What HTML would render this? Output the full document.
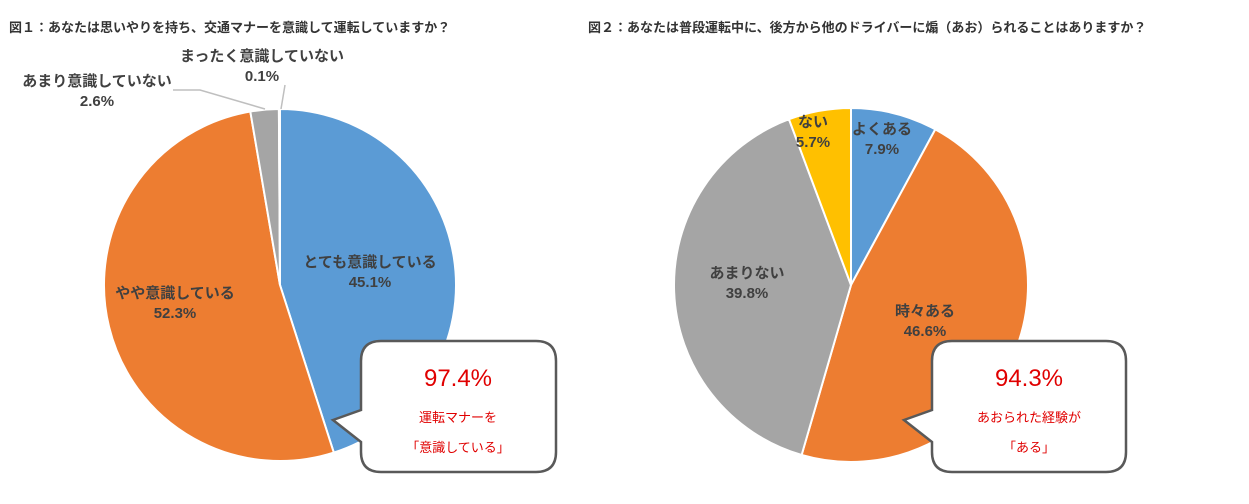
<!DOCTYPE html>
<html><head><meta charset="utf-8">
<style>
body{margin:0;background:#fff;width:1249px;height:504px;overflow:hidden;font-family:"Liberation Sans","Noto Sans CJK JP",sans-serif;}
svg{display:block}
.t{font-size:13px;font-weight:bold;fill:#333}
.l{font-size:15px;font-weight:bold;fill:#404040;text-anchor:middle}
</style></head><body>
<svg id="c" width="1249" height="504">
<text class="t" x="9" y="32">図１：あなたは思いやりを持ち、交通マナーを意識して運転していますか？</text>
<text class="t" x="588" y="32">図２：あなたは普段運転中に、後方から他のドライバーに煽（あお）られることはありますか？</text>
<g id="p1"></g>
<g id="p2"></g>
<g id="lab"></g>
<path d="M381,341 H536 Q556,341 556,361 V452 Q556,472 536,472 H381 Q361,472 361,452 V442 L333,420 L361,410 V361 Q361,341 381,341 Z" fill="#fff" stroke="#595959" stroke-width="2.5"/>
<text x="458" y="386" text-anchor="middle" font-size="24" fill="#e00000">97.4%</text>
<text x="458" y="422" text-anchor="middle" font-size="13" fill="#e00000">運転マナーを</text>
<text x="458" y="452" text-anchor="middle" font-size="13" fill="#e00000">「意識している」</text>
<path d="M952,341 H1106 Q1126,341 1126,361 V452 Q1126,472 1106,472 H952 Q932,472 932,452 V442 L904,420 L932,410 V361 Q932,341 952,341 Z" fill="#fff" stroke="#595959" stroke-width="2.5"/>
<text x="1029" y="386" text-anchor="middle" font-size="24" fill="#e00000">94.3%</text>
<text x="1029" y="422" text-anchor="middle" font-size="13" fill="#e00000">あおられた経験が</text>
<text x="1029" y="452" text-anchor="middle" font-size="13" fill="#e00000">「ある」</text>
</svg>
<script>
const cats1=["とても意識している","やや意識している","あまり意識していない","まったく意識していない"];
const vals1=[45.1,52.3,2.6,0.1];
const cats2=["よくある","時々ある","あまりない","ない"];
const vals2=[7.9,46.6,39.8,5.7];
const colors=["#5b9bd5","#ed7d31","#a5a5a5","#ffc000"];
const NS="http://www.w3.org/2000/svg";
function pie(gid,vals,cx,cy,r,names){
  const g=document.getElementById(gid);
  const tot=vals.reduce((a,b)=>a+b,0);
  let a=0;
  vals.forEach((v,i)=>{
    const a0=a/tot*2*Math.PI, a1=(a+v)/tot*2*Math.PI; a+=v;
    const x0=cx+r*Math.sin(a0),y0=cy-r*Math.cos(a0),x1=cx+r*Math.sin(a1),y1=cy-r*Math.cos(a1);
    const p=document.createElementNS(NS,"path");
    p.setAttribute("d",`M${cx},${cy} L${x0},${y0} A${r},${r} 0 ${a1-a0>Math.PI?1:0} 1 ${x1},${y1} Z`);
    p.setAttribute("fill",colors[i]);p.setAttribute("stroke","#fff");p.setAttribute("stroke-width","2");
    
    
    g.appendChild(p);
  });
}
pie("p1",vals1,280,285,176,["slice-very-conscious","slice-somewhat-conscious","slice-not-very-conscious","slice-not-conscious"]);
pie("p2",vals2,851,285,177,["slice-often","slice-sometimes","slice-rarely","slice-never"]);
const lab=document.getElementById("lab");
function txt(x,y,s,name){
  const t=document.createElementNS(NS,"text");
  t.setAttribute("x",x);t.setAttribute("y",y);t.setAttribute("class","l");t.textContent=s;
  
  
  lab.appendChild(t);
}
function line(d,name){
  const p=document.createElementNS(NS,"path");
  p.setAttribute("d",d);p.setAttribute("stroke","#bfbfbf");p.setAttribute("fill","none");p.setAttribute("stroke-width","1.5");
  
  
  lab.appendChild(p);
}
const L1=[[370,267],[175,298],[97,86],[262,61]];
const L2=[[882,134],[925,316],[747,278],[813,127]];
vals1.forEach((v,i)=>{txt(L1[i][0],L1[i][1],cats1[i],"label1-name-"+i);txt(L1[i][0],L1[i][1]+20,v.toFixed(1)+"%","label1-value-"+i);});
vals2.forEach((v,i)=>{txt(L2[i][0],L2[i][1],cats2[i],"label2-name-"+i);txt(L2[i][0],L2[i][1]+20,v.toFixed(1)+"%","label2-value-"+i);});
line("M173,90 L200,90 L265,109","leader-not-very");
line("M285,85 L281,109","leader-not-at-all");
</script>
</body></html>
